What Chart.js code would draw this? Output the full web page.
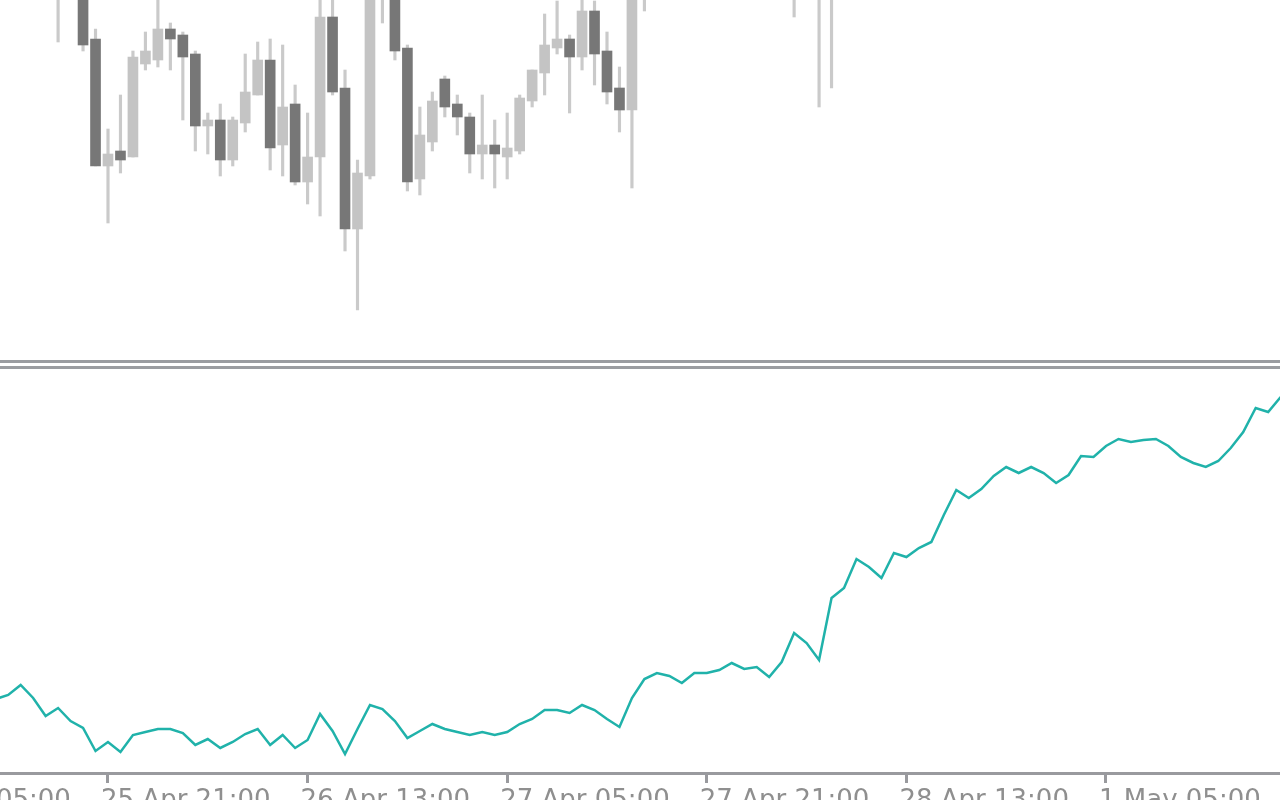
<!DOCTYPE html>
<html>
<head>
<meta charset="utf-8">
<script src="https://cdn.jsdelivr.net/npm/chart.js@4.4.1/dist/chart.umd.min.js"></script>
<style>
  html, body { margin: 0; padding: 0; width: 1280px; height: 800px; overflow: hidden; background: #fff; }
  canvas { position: absolute; left: 0; }
  #price { top: 0; }
  #osc { top: 369px; }
  .sep { position: absolute; left: 0; width: 1280px; height: 3px; background: #9a9ca0; }
</style>
</head>
<body>
<canvas id="price" width="1280" height="360"></canvas>
<div class="sep" style="top:360px"></div>
<div class="sep" style="top:366px"></div>
<canvas id="osc" width="1280" height="431"></canvas>
<script>
// H1 bars, x = bar number (bar 0 is the first one centred on screen)
const firstBar = 4;
const opens  = [385, null, 380, 321, 194, 209, 203, 296, 300, 331, 325, 306, 234, 240, 200, 237, 265, 300, 215, 256,
                178, 203, 343, 272, 131, 184, 380, 385, 312, 181, 218, 281, 256, 243, 206, 215, 203, 209, 259, 287,
                312, 321, 303, 349, 309, 272, 250, 375, null, null, null, null, null, null, null, null, null, null,
                null, 380, null, 375, 380];
const highs  = [400, null, 390, 331, 231, 265, 309, 328, 365, 337, 328, 309, 247, 256, 243, 306, 318, 321, 315, 275,
                247, 365, 365, 290, 200, 395, 400, 395, 315, 253, 268, 284, 265, 247, 265, 240, 247, 265, 290, 346,
                359, 325, 370, 359, 328, 293, 400, 400, null, null, null, null, null, null, null, null, null, null,
                null, 400, null, 400, 400];
const lows   = [318, null, 309, 194, 137, 187, 203, 290, 293, 290, 240, 209, 206, 184, 194, 228, 265, 190, 184, 175,
                156, 144, 265, 109, 50, 181, 337, 300, 169, 165, 209, 243, 225, 187, 181, 172, 181, 206, 253, 265,
                306, 247, 290, 275, 256, 228, 172, 349, null, null, null, null, null, null, null, null, null, null,
                null, 343, null, 253, 272];
const closes = [395, null, 315, 194, 206, 200, 303, 309, 331, 321, 303, 234, 240, 200, 240, 268, 300, 212, 253, 178,
                203, 343, 268, 131, 187, 380, 390, 309, 178, 225, 259, 253, 243, 206, 215, 206, 212, 262, 290, 315,
                321, 303, 349, 306, 268, 250, 380, 390, null, null, null, null, null, null, null, null, null, null,
                null, 390, null, 390, 390];

// indicator in the lower window, one value per bar from bar -1
const firstPoint = -1;
const oscValues = [74, 78, 88, 75, 57, 65, 52, 45, 22, 31,
                   21, 38, 41, 44, 44, 40, 28, 34, 25, 31,
                   39, 44, 28, 38, 25, 33, 59, 42, 19, 44,
                   68, 64, 52, 35, 42, 49, 44, 41, 38, 41,
                   38, 41, 49, 54, 63, 63, 60, 68, 63, 54,
                   46, 75, 94, 100, 97, 90, 100, 100, 103, 110,
                   104, 106, 96, 111, 140, 130, 113, 175, 185, 214,
                   206, 195, 220, 216, 225, 231, 258, 283, 275, 284,
                   297, 306, 300, 306, 300, 290, 298, 317, 316, 327,
                   334, 331, 333, 334, 327, 316, 310, 306, 312, 325,
                   341, 365, 361, 376];

// time axis
const tickIndex  = [-8, 8, 24, 40, 56, 72, 88];
const tickLabels = ['25 Apr 05:00', '25 Apr 21:00', '26 Apr 13:00', '27 Apr 05:00',
                    '27 Apr 21:00', '28 Apr 13:00', '1 May 05:00'];

const xMin = -0.657;
const xMax = 101.948;
const axisGrey = '#999a9e';

const bodies = [];
const wicks = [];
const bodyColors = [];
opens.forEach((o, k) => {
  if (o === null) return;
  const x = firstBar + k;
  bodies.push({ x: x, y: [o, closes[k]] });
  wicks.push({ x: x, y: [lows[k], highs[k]] });
  bodyColors.push(closes[k] >= o ? '#c4c4c4' : '#777777');
});

const common = {
  responsive: false,
  animation: false,
  events: [],
  layout: { padding: 0 },
  plugins: { legend: { display: false }, tooltip: { enabled: false } }
};

new Chart(document.getElementById('price'), {
  type: 'bar',
  data: {
    datasets: [
      { data: bodies, backgroundColor: bodyColors, barThickness: 10, grouped: false, borderWidth: 0, order: 0 },
      { data: wicks, backgroundColor: '#cacaca', barThickness: 2.5, grouped: false, borderWidth: 0, order: 1 }
    ]
  },
  options: {
    ...common,
    scales: {
      x: { type: 'linear', display: false, offset: false, min: xMin, max: xMax },
      y: { display: false, min: 0, max: 360 }
    }
  }
});

new Chart(document.getElementById('osc'), {
  type: 'line',
  data: {
    datasets: [{
      data: oscValues.map((v, k) => ({ x: firstPoint + k, y: v })),
      borderColor: '#20b2aa',
      borderWidth: 2.5,
      pointRadius: 0,
      tension: 0,
      fill: false
    }]
  },
  options: {
    ...common,
    scales: {
      x: {
        type: 'linear',
        min: xMin,
        max: xMax,
        afterBuildTicks: s => { s.ticks = tickIndex.map(v => ({ value: v })); },
        afterFit: s => { s.height = 27; s.paddingLeft = 0; s.paddingRight = 0; },
        grid: { drawOnChartArea: false, color: axisGrey, lineWidth: 3, tickLength: 10 },
        border: { color: axisGrey, width: 3 },
        ticks: {
          autoSkip: false,
          minRotation: 0,
          maxRotation: 0,
          align: 'start',
          labelOffset: -7,
          padding: 3,
          color: '#8f8f8f',
          font: { family: 'DejaVu Sans', size: 26 },
          callback: v => {
            const k = tickIndex.indexOf(v);
            return k < 0 ? null : tickLabels[k];
          }
        }
      },
      y: { display: false, min: 0, max: 404 }
    }
  }
});
</script>
</body>
</html>
